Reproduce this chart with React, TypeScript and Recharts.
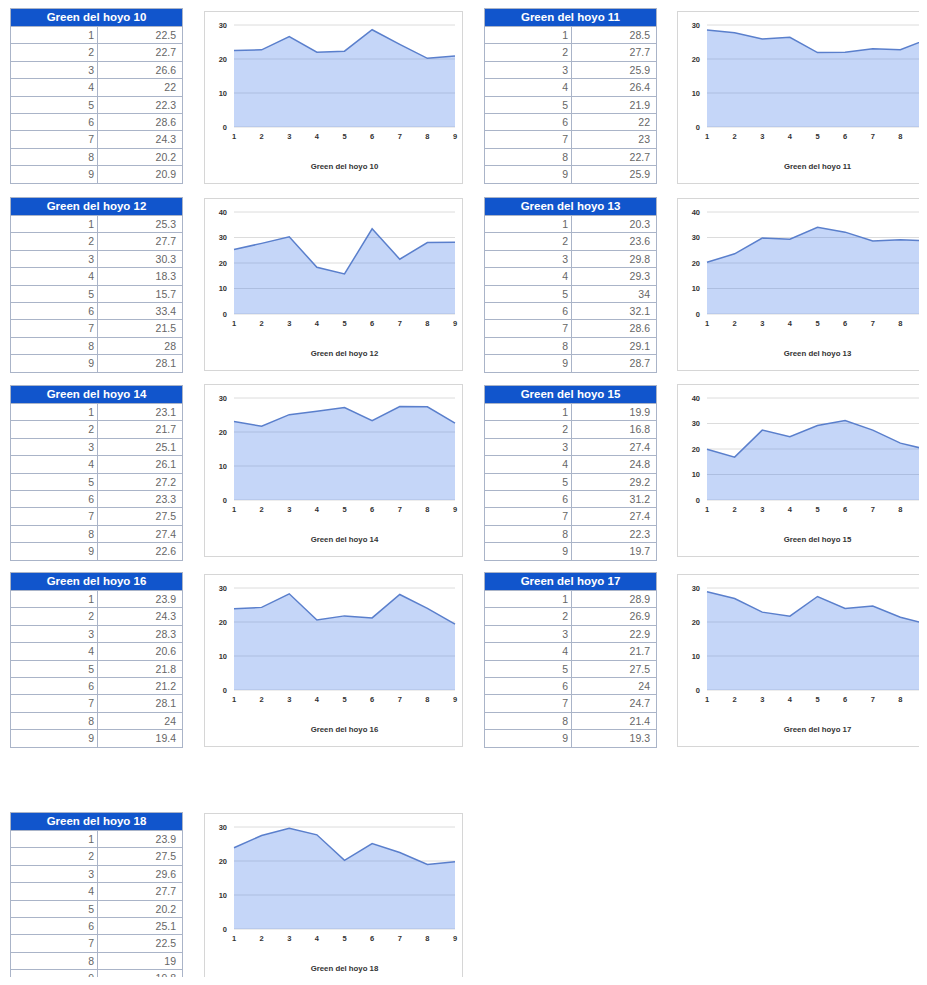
import { AreaChart, Area, XAxis, YAxis, CartesianGrid, Label } from "recharts";

const holes = ["1", "2", "3", "4", "5", "6", "7", "8", "9"];

const hoyo10 = [22.5, 22.7, 26.6, 22, 22.3, 28.6, 24.3, 20.2, 20.9];
const hoyo11 = [28.5, 27.7, 25.9, 26.4, 21.9, 22, 23, 22.7, 25.9];
const hoyo12 = [25.3, 27.7, 30.3, 18.3, 15.7, 33.4, 21.5, 28, 28.1];
const hoyo13 = [20.3, 23.6, 29.8, 29.3, 34, 32.1, 28.6, 29.1, 28.7];
const hoyo14 = [23.1, 21.7, 25.1, 26.1, 27.2, 23.3, 27.5, 27.4, 22.6];
const hoyo15 = [19.9, 16.8, 27.4, 24.8, 29.2, 31.2, 27.4, 22.3, 19.7];
const hoyo16 = [23.9, 24.3, 28.3, 20.6, 21.8, 21.2, 28.1, 24, 19.4];
const hoyo17 = [28.9, 26.9, 22.9, 21.7, 27.5, 24, 24.7, 21.4, 19.3];
const hoyo18 = [23.9, 27.5, 29.6, 27.7, 20.2, 25.1, 22.5, 19, 19.8];

const ticks30 = [0, 10, 20, 30];
const ticks40 = [0, 10, 20, 30, 40];

const FONT = "'Liberation Sans', Arial, sans-serif";
const tickStyle = { fill: "#333", fontSize: 7.5, fontWeight: 700, fontFamily: FONT };

function DataTable({ title, values, left, top }: { title: string; values: number[]; left: number; top: number }) {
  return (
    <div
      style={{
        position: "absolute",
        left,
        top,
        width: 173,
        fontFamily: FONT,
        border: "1px solid #aab4c8",
        boxSizing: "border-box",
        background: "#fff",
      }}
    >
      <div
        style={{
          height: 17,
          background: "#1155cc",
          color: "#fff",
          fontWeight: 700,
          fontSize: 11.5,
          lineHeight: "17px",
          textAlign: "center",
        }}
      >
        {title}
      </div>
      {values.map((v, i) => (
        <div
          key={i}
          style={{
            display: "flex",
            height: 17.4,
            boxSizing: "border-box",
            borderTop: "1px solid #aab4c8",
            fontSize: 10.5,
            color: "#666",
            lineHeight: "16px",
          }}
        >
          <div style={{ width: 87, textAlign: "right", paddingRight: 3, boxSizing: "border-box", borderRight: "1px solid #aab4c8" }}>
            {holes[i]}
          </div>
          <div style={{ flex: 1, textAlign: "right", paddingRight: 6 }}>{v}</div>
        </div>
      ))}
    </div>
  );
}

function HoleChart({ title, values, left, top }: { title: string; values: number[]; left: number; top: number }) {
  const data = holes.map((h, i) => ({ hoyo: h, valor: values[i] }));
  const ticks = Math.max(...values) > 30 ? ticks40 : ticks30;
  return (
    <div
      style={{
        position: "absolute",
        left,
        top,
        width: 259,
        height: 173,
        border: "1px solid #d6d6d6",
        boxSizing: "border-box",
        background: "#fff",
      }}
    >
      <AreaChart width={257} height={171} data={data} margin={{ top: 13, right: 7, left: 0, bottom: 0 }}>
        <CartesianGrid vertical={false} stroke="#dcdcdc" />
        <XAxis
          dataKey="hoyo"
          height={56}
          axisLine={false}
          tickLine={false}
          tickSize={0}
          tickMargin={7}
          interval={0}
          tick={tickStyle}
        >
          <Label
            value={title}
            position="insideBottom"
            offset={14}
            style={{ fill: "#333", fontSize: 7.8, fontWeight: 700, fontFamily: FONT }}
          />
        </XAxis>
        <YAxis
          width={29}
          domain={[0, ticks[ticks.length - 1]]}
          ticks={ticks}
          axisLine={false}
          tickLine={false}
          tickSize={0}
          tickMargin={7}
          tick={tickStyle}
        />
        <Area
          type="linear"
          dataKey="valor"
          stroke="#5a7fcc"
          strokeWidth={1.5}
          fill="#4a7fe8"
          fillOpacity={0.32}
          isAnimationActive={false}
          dot={false}
          activeDot={false}
        />
      </AreaChart>
    </div>
  );
}

const rows = [
  { top: 8, chartTop: 11, a: ["Green del hoyo 10", hoyo10], b: ["Green del hoyo 11", hoyo11] },
  { top: 197, chartTop: 198, a: ["Green del hoyo 12", hoyo12], b: ["Green del hoyo 13", hoyo13] },
  { top: 385, chartTop: 384, a: ["Green del hoyo 14", hoyo14], b: ["Green del hoyo 15", hoyo15] },
  { top: 572, chartTop: 574, a: ["Green del hoyo 16", hoyo16], b: ["Green del hoyo 17", hoyo17] },
  { top: 812, chartTop: 813, a: ["Green del hoyo 18", hoyo18], b: null },
] as const;

export default function App() {
  return (
    <div style={{ position: "relative", width: 927, height: 985, margin: -8, overflow: "hidden", background: "#fff" }}>
      {rows.map((r, i) => (
        <div key={i}>
          <DataTable title={r.a[0] as string} values={r.a[1] as number[]} left={10} top={r.top} />
          <HoleChart title={r.a[0] as string} values={r.a[1] as number[]} left={204} top={r.chartTop} />
          {r.b && (
            <>
              <DataTable title={r.b[0] as string} values={r.b[1] as number[]} left={484} top={r.top} />
              <HoleChart title={r.b[0] as string} values={r.b[1] as number[]} left={677} top={r.chartTop} />
            </>
          )}
        </div>
      ))}
    </div>
  );
}
